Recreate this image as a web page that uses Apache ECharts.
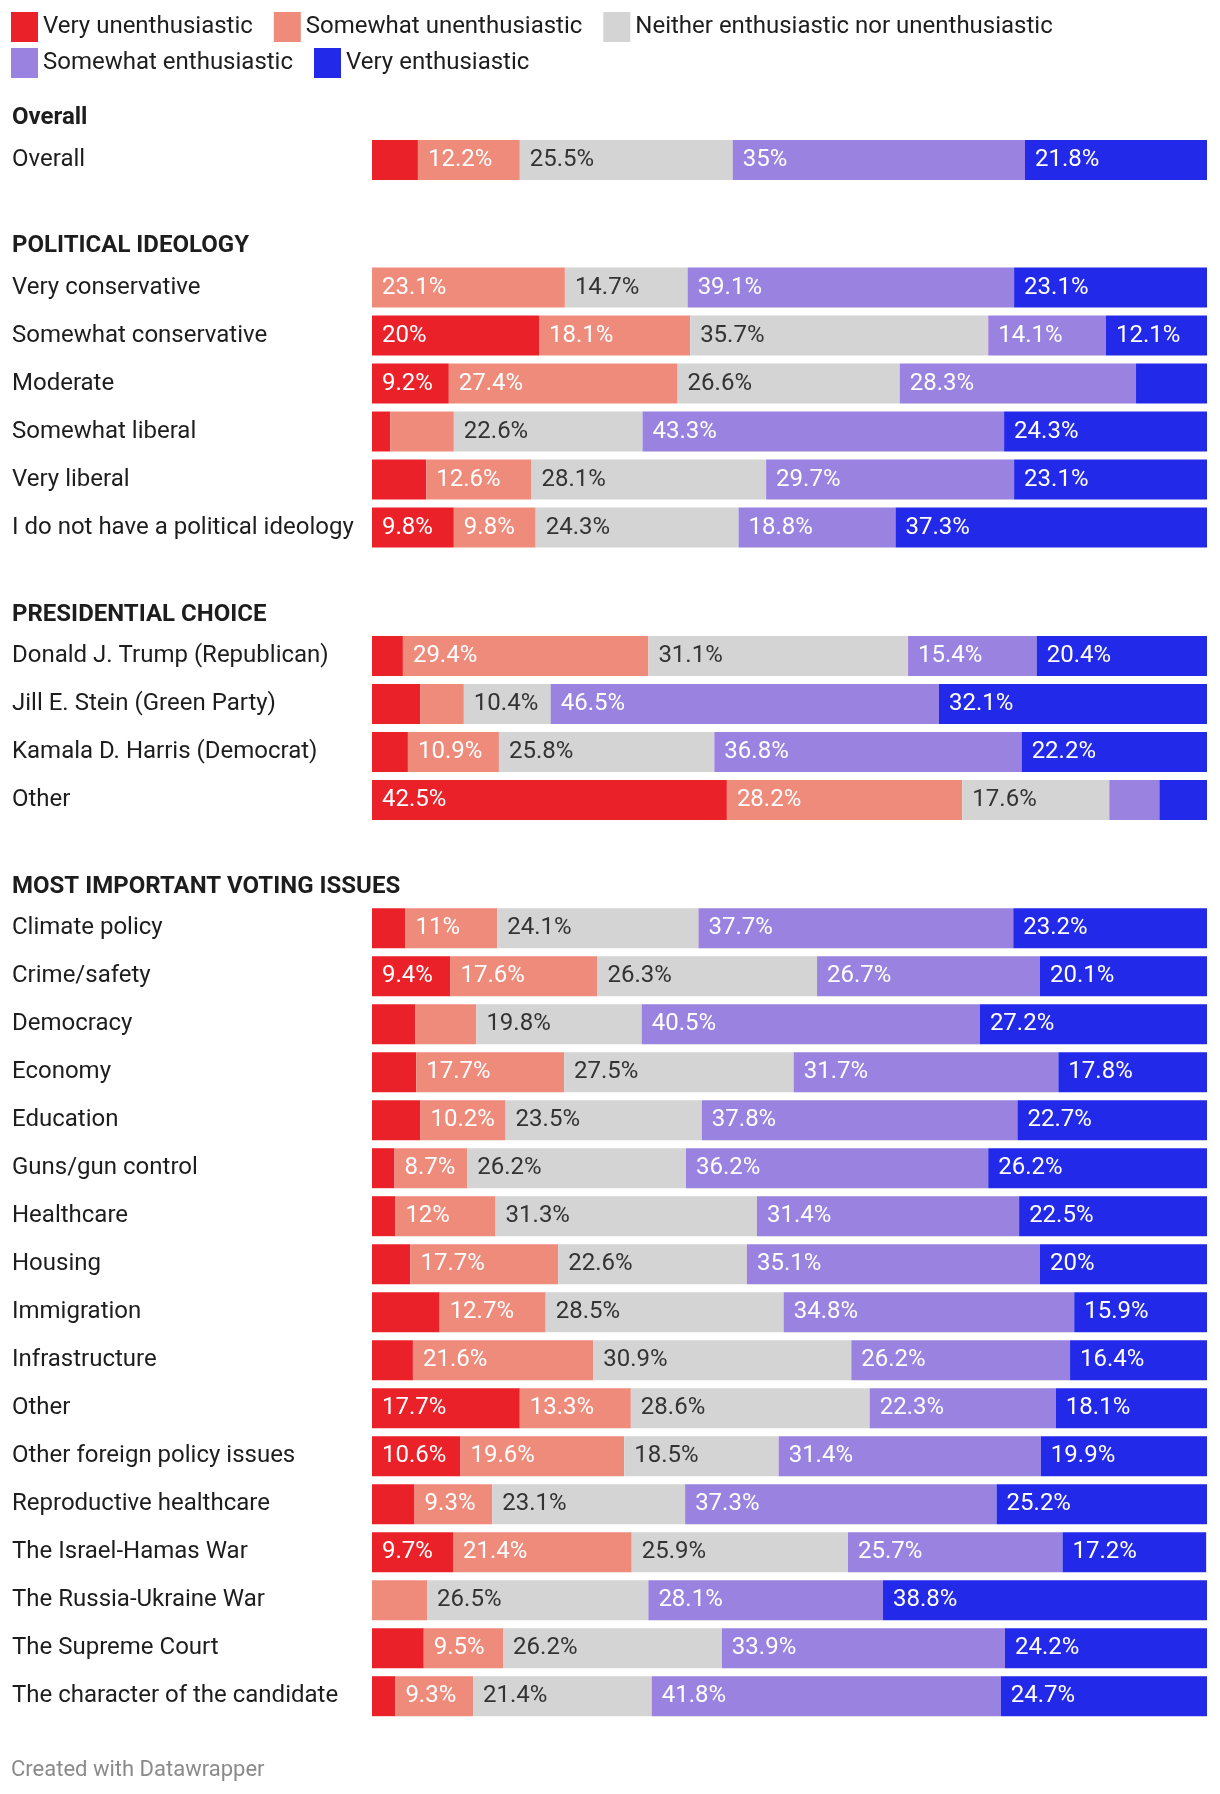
<!DOCTYPE html>
<html><head><meta charset="utf-8">
<script src="https://cdn.jsdelivr.net/npm/echarts@6/dist/echarts.min.js"></script>
<style>html,body{margin:0;padding:0;background:#fff}#c{width:1220px;height:1794px}</style>
</head><body><div id="c"></div>
<script>
// ---- DATA ----
const responseNames = ['Very unenthusiastic','Somewhat unenthusiastic','Neither enthusiastic nor unenthusiastic','Somewhat enthusiastic','Very enthusiastic'];
const groupTitles = ['Overall','POLITICAL IDEOLOGY','PRESIDENTIAL CHOICE','MOST IMPORTANT VOTING ISSUES'];

const overallCategories = ['Overall'];
const overallRows = [[5.5, 12.2, 25.5, 35, 21.8]];

const ideologyCategories = ['Very conservative','Somewhat conservative','Moderate','Somewhat liberal','Very liberal','I do not have a political ideology'];
const ideologyRows = [
  [0, 23.1, 14.7, 39.1, 23.1],
  [20, 18.1, 35.7, 14.1, 12.1],
  [9.2, 27.4, 26.6, 28.3, 8.5],
  [2.2, 7.6, 22.6, 43.3, 24.3],
  [6.5, 12.6, 28.1, 29.7, 23.1],
  [9.8, 9.8, 24.3, 18.8, 37.3]
];

const choiceCategories = ['Donald J. Trump (Republican)','Jill E. Stein (Green Party)','Kamala D. Harris (Democrat)','Other'];
const choiceRows = [
  [3.7, 29.4, 31.1, 15.4, 20.4],
  [5.8, 5.2, 10.4, 46.5, 32.1],
  [4.3, 10.9, 25.8, 36.8, 22.2],
  [42.5, 28.2, 17.6, 6.0, 5.7]
];

const issueCategories = ['Climate policy','Crime/safety','Democracy','Economy','Education','Guns/gun control','Healthcare','Housing','Immigration','Infrastructure','Other','Other foreign policy issues','Reproductive healthcare','The Israel-Hamas War','The Russia-Ukraine War','The Supreme Court','The character of the candidate'];
const issueRows = [
  [4.0, 11, 24.1, 37.7, 23.2],
  [9.4, 17.6, 26.3, 26.7, 20.1],
  [5.2, 7.3, 19.8, 40.5, 27.2],
  [5.3, 17.7, 27.5, 31.7, 17.8],
  [5.8, 10.2, 23.5, 37.8, 22.7],
  [2.7, 8.7, 26.2, 36.2, 26.2],
  [2.8, 12, 31.3, 31.4, 22.5],
  [4.6, 17.7, 22.6, 35.1, 20],
  [8.1, 12.7, 28.5, 34.8, 15.9],
  [4.9, 21.6, 30.9, 26.2, 16.4],
  [17.7, 13.3, 28.6, 22.3, 18.1],
  [10.6, 19.6, 18.5, 31.4, 19.9],
  [5.1, 9.3, 23.1, 37.3, 25.2],
  [9.7, 21.4, 25.9, 25.7, 17.2],
  [0, 6.6, 26.5, 28.1, 38.8],
  [6.2, 9.5, 26.2, 33.9, 24.2],
  [2.8, 9.3, 21.4, 41.8, 24.7]
];

// ---- STYLE / LAYOUT ----
const colors = ['#eb2129','#ee8b7b','#d4d4d4','#9a82e0','#2229e8'];
const labelColors = ['#fff','#fff','#333','#fff','#fff'];
const FONT = 'Roboto, "Noto Sans", sans-serif';
const groups = [
  {cats: overallCategories, rows: overallRows, top: 136, head: 118},
  {cats: ideologyCategories, rows: ideologyRows, top: 263.5, head: 246},
  {cats: choiceCategories, rows: choiceRows, top: 632, head: 614.5},
  {cats: issueCategories, rows: issueRows, top: 904.2, head: 887}
];
const ROW = 48, LEFT = 372, RIGHT = 13;

const grid = [], xAxis = [], yAxis = [], series = [], graphic = [];
groups.forEach((g, gi) => {
  grid.push({left: LEFT, right: RIGHT, top: g.top, height: g.cats.length * ROW, containLabel: false});
  xAxis.push({type: 'value', gridIndex: gi, min: 0, max: 100, show: false});
  yAxis.push({
    type: 'category', gridIndex: gi, data: g.cats, inverse: true,
    axisLine: {show: false}, axisTick: {show: false}, splitLine: {show: false},
    axisLabel: {interval: 0, align: 'left', margin: LEFT - 12, color: '#1d1d1d', fontFamily: FONT, fontSize: 24, padding: [7, 0, 0, 0]}
  });
  responseNames.forEach((name, ri) => {
    series.push({
      type: 'bar', name: name, xAxisIndex: gi, yAxisIndex: gi, stack: 'g' + gi,
      barWidth: 40, itemStyle: {color: colors[ri]},
      data: g.rows.map(r => r[ri]),
      label: {
        show: true, position: 'insideLeft', distance: 10,
        color: labelColors[ri], fontFamily: FONT, fontSize: 24, padding: [6, 0, 0, 0],
        formatter: p => p.value >= 8.6 ? p.value + '%' : ''
      },
      emphasis: {disabled: true}, animation: false
    });
  });
  graphic.push({type: 'text', x: 12, y: g.head, style: {text: groupTitles[gi], font: 'bold 24px ' + FONT, fill: '#1d1d1d', verticalAlign: 'middle'}});
});
graphic.push({type: 'text', x: 11, y: 1770, style: {text: 'Created with Datawrapper', font: '22px ' + FONT, fill: '#8a8a8a', verticalAlign: 'middle'}});

const legendCommon = {icon: 'rect', itemWidth: 27, itemHeight: 30, itemGap: 21, orient: 'horizontal', padding: 0,
  textStyle: {color: '#1d1d1d', fontFamily: FONT, fontSize: 24, padding: [4, 0, 0, 0]}, selectedMode: false};

const chart = echarts.init(document.getElementById('c'), null, {renderer: 'canvas'});
chart.setOption({
  animation: false,
  backgroundColor: '#fff',
  color: colors,
  legend: [
    Object.assign({left: 11, top: 12, data: responseNames.slice(0, 3)}, legendCommon),
    Object.assign({left: 11, top: 48, data: responseNames.slice(3)}, legendCommon)
  ],
  grid, xAxis, yAxis, series, graphic
});
</script>
</body></html>
